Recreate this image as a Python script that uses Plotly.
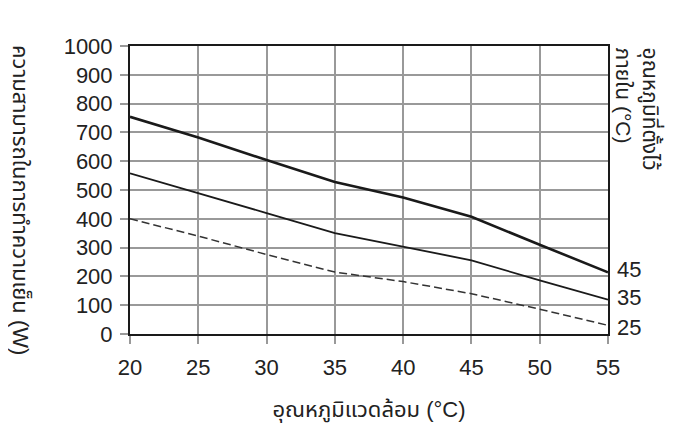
import plotly.graph_objects as go

# ambient temperature (°C)
ambient = [20, 25, 30, 35, 40, 45, 50, 55]

# cooling capacity (W) per internal set temperature
cap_45 = [754, 682, 604, 528, 474, 407, 310, 214]
cap_35 = [558, 490, 420, 350, 302, 256, 186, 119]
cap_25 = [400, 340, 276, 215, 182, 140, 86, 30]

set_labels = ["45", "35", "25"]
y_ticks = list(range(0, 1001, 100))
x_ticks = list(range(20, 56, 5))

FONT = "Liberation Sans, Arial, Noto Sans Thai, DejaVu Sans, sans-serif"
TXT = "#222222"

fig = go.Figure()

fig.add_trace(go.Scatter(x=ambient, y=cap_45, mode="lines",
                         line=dict(color="#1a1a1a", width=2.6), showlegend=False))
fig.add_trace(go.Scatter(x=ambient, y=cap_35, mode="lines",
                         line=dict(color="#1a1a1a", width=1.8), showlegend=False))
fig.add_trace(go.Scatter(x=ambient, y=cap_25, mode="lines",
                         line=dict(color="#333333", width=1.5, dash="8px,4px"),
                         showlegend=False))

# labels at the right end of each curve
shifts = [3, 2, -2]
for lab, series, ys in zip(set_labels, [cap_45, cap_35, cap_25], shifts):
    fig.add_annotation(x=ambient[-1], y=series[-1], text=lab, showarrow=False,
                       xanchor="left", xshift=7, yshift=ys,
                       font=dict(size=22, color=TXT, family=FONT))

# right-hand title (rotated)
fig.add_annotation(xref="paper", yref="paper", x=1.005, y=1.0,
                   text="อุณหภูมิที่ตั้งไว้<br>ภายใน (°C)", showarrow=False,
                   textangle=90, xanchor="left", yanchor="top", align="left",
                   font=dict(size=21, color=TXT, family=FONT))

fig.update_xaxes(
    range=[20, 55], tickvals=x_ticks, ticktext=[str(v) for v in x_ticks],
    showgrid=True, gridcolor="#999999", gridwidth=1.5,
    showline=True, linecolor="#1a1a1a", linewidth=2, mirror=True,
    ticks="outside", ticklen=8, tickwidth=1.5, tickcolor="#999999",
    tickfont=dict(size=22, color=TXT, family=FONT),
    ticklabelstandoff=5,
    title=dict(text="อุณหภูมิแวดล้อม (°C)", standoff=22,
               font=dict(size=22, color=TXT, family=FONT)),
    zeroline=False,
)
fig.update_yaxes(
    range=[0, 1000], tickvals=y_ticks, ticktext=[str(v) for v in y_ticks],
    showgrid=True, gridcolor="#999999", gridwidth=1.5,
    showline=True, linecolor="#1a1a1a", linewidth=2, mirror=True,
    ticks="outside", ticklen=8, tickwidth=1.5, tickcolor="#999999",
    tickfont=dict(size=22, color=TXT, family=FONT),
    ticklabelstandoff=3,
    zeroline=False,
)

# left title, rotated clockwise like the original
fig.add_annotation(xref="paper", yref="paper", x=-0.228, y=0.465,
                   text="ความสามารถในการทำความเย็น (W)", showarrow=False,
                   textangle=90, xanchor="center", yanchor="middle",
                   font=dict(size=22, color=TXT, family=FONT))

# page body keeps an 8px margin, so margins are offset by that
fig.update_layout(
    width=685, height=437,
    margin=dict(l=122, r=85, t=38, b=111),
    paper_bgcolor="white", plot_bgcolor="white",
    font=dict(family=FONT, color=TXT),
)

fig.write_html("out.html")
